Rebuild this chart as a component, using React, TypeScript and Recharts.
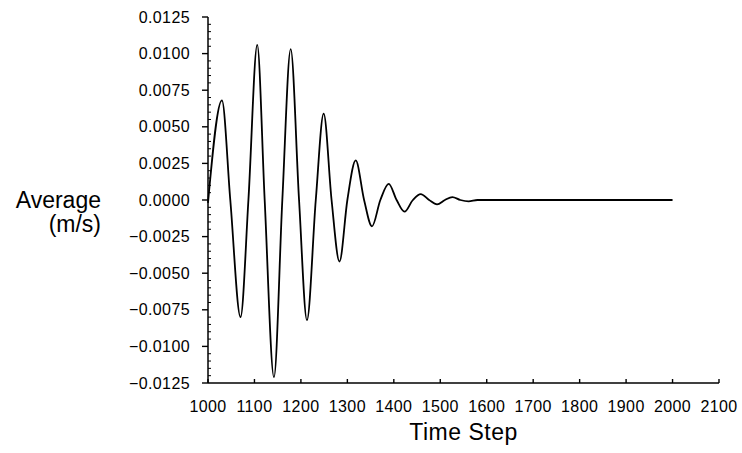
import { LineChart, Line, XAxis, YAxis } from 'recharts';

// time step / average velocity (extrema and zero crossings)
const steps = [
  1000, 1030, 1048, 1070, 1087, 1106, 1122, 1142, 1160, 1178, 1196, 1213, 1232, 1249,
  1266, 1283, 1300, 1318, 1336, 1353, 1371, 1389, 1406, 1423, 1441, 1458, 1476, 1493,
  1510, 1526, 1543, 1561, 1580, 1600, 2000,
];
const average = [
  -0.0002, 0.0068, 0, -0.008, 0, 0.0106, 0, -0.0121, 0, 0.0103, 0, -0.0082, 0, 0.0059,
  0, -0.0042, 0, 0.0027, 0, -0.0018, 0, 0.0011, 0, -0.0008, 0, 0.0004, 0, -0.0003,
  0, 0.0002, 0, -0.0001, 0, 0, 0,
];

const xTicks = [1000, 1100, 1200, 1300, 1400, 1500, 1600, 1700, 1800, 1900, 2000, 2100];
const yMajor = [-0.0125, -0.01, -0.0075, -0.005, -0.0025, 0, 0.0025, 0.005, 0.0075, 0.01, 0.0125];

// four minor ticks between each pair of labelled ones
const yTicks: number[] = [];
yMajor.forEach((v, i) => {
  yTicks.push(v);
  if (i < yMajor.length - 1) {
    const step = (yMajor[i + 1] - v) / 5;
    for (let k = 1; k < 5; k++) yTicks.push(+(v + step * k).toFixed(5));
  }
});

const data = steps.map((t, i) => ({ t, v: average[i] }));

const font = '"Liberation Sans", Arial, Helvetica, sans-serif';

const isMajor = (v: number) => yMajor.some((m) => Math.abs(m - v) < 1e-7);

const fmtY = (v: number) => {
  const s = Math.abs(v).toFixed(4);
  return v < -1e-9 ? '\u2212' + s : s;
};

const YTick = ({ x, y, payload }: any) => {
  const v = payload.value;
  if (!isMajor(v)) {
    return <line x1={x} x2={x + 3} y1={y} y2={y} stroke="#000" strokeWidth={1} />;
  }
  return (
    <g>
      <line x1={x - 6} x2={x} y1={y} y2={y} stroke="#000" strokeWidth={1.4} />
      <text x={x - 18} y={y + 5.5} textAnchor="end" fontSize={16} letterSpacing={0.4} fill="#000" fontFamily={font}>
        {fmtY(v)}
      </text>
    </g>
  );
};

const XTick = ({ x, y, payload }: any) => (
  <g>
    <line x1={x} x2={x} y1={y} y2={y - 4} stroke="#000" strokeWidth={1.4} />
    <text x={x} y={y + 29} textAnchor="middle" fontSize={16} letterSpacing={0.4} fill="#000" fontFamily={font}>
      {payload.value}
    </text>
  </g>
);

const XTitle = ({ viewBox }: any) => (
  <text x={viewBox.x + viewBox.width / 2} y={viewBox.y + 57} textAnchor="middle" fontSize={23} letterSpacing={0.5} fill="#000" fontFamily={font}>
    Time Step
  </text>
);

const YTitle = ({ viewBox }: any) => (
  <text textAnchor="end" fontSize={23} fill="#000" fontFamily={font}>
    <tspan x={101} y={viewBox.y + 191}>Average</tspan>
    <tspan x={101} y={viewBox.y + 215}>(m/s)</tspan>
  </text>
);

export default function App() {
  return (
    <div style={{ width: 742, height: 453, background: '#fff' }}>
      <style>{`body{margin:0}`}</style>
      <LineChart width={742} height={453} data={data} margin={{ top: 17, right: 23, left: 0, bottom: 0 }}>
        <XAxis
          dataKey="t"
          type="number"
          domain={[1000, 2100]}
          ticks={xTicks}
          interval={0}
          height={70}
          tickSize={0}
          tickMargin={0}
          tickLine={false}
          axisLine={{ stroke: '#000', strokeWidth: 1.5 }}
          tick={<XTick />}
          label={<XTitle />}
        />
        <YAxis
          type="number"
          domain={[-0.0125, 0.0125]}
          ticks={yTicks}
          interval={0}
          width={208}
          tickSize={0}
          tickMargin={0}
          tickLine={false}
          axisLine={{ stroke: '#000', strokeWidth: 1.5 }}
          tick={<YTick />}
          label={<YTitle />}
          allowDataOverflow
        />
        <Line
          dataKey="v"
          type="monotone"
          stroke="#000"
          strokeWidth={1.8}
          dot={false}
          isAnimationActive={false}
        />
      </LineChart>
    </div>
  );
}
